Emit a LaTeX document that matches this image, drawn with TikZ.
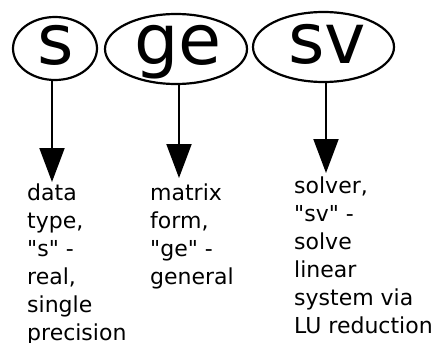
\documentclass[tikz,border=0pt]{standalone}
\usepackage{fontspec}
\setmainfont{DejaVu Sans}[Ligatures=TeXOff]
\usetikzlibrary{arrows.meta}
\begin{document}
\begin{tikzpicture}[x=1pt,y=-1pt,
  ring/.style={line width=2.2pt},
  big/.style={font=\fontsize{70}{70}\selectfont,inner sep=0pt,anchor=base},
  arr/.style={line width=2pt,-{Triangle[width=25pt,length=34pt]}},
  desc/.style={anchor=north west,inner sep=0pt,align=left,font=\fontsize{22}{28}\selectfont}]
\useasboundingbox (0,0) rectangle (435,342);
% ellipses
\draw[ring] (55,48.5) ellipse [x radius=42, y radius=31.5];
\draw[ring] (176,49) ellipse [x radius=71, y radius=35];
\draw[ring] (323.5,47) ellipse [x radius=70.5, y radius=35];
\node[big] (s) at (56,65) {s};
\node[big] (ge) at (178,65) {ge};
\node[big] (sv) at (327,64) {sv};
\coordinate (sb) at (52,80);
\coordinate (geb) at (179,84);
\coordinate (svb) at (326,82);
\coordinate (st) at (52,182);
\coordinate (get) at (179,178);
\coordinate (svt) at (326,173);
\draw[arr] (sb) -- (st);
\draw[arr] (geb) -- (get);
\draw[arr] (svb) -- (svt);
\node[desc] (d1) at (27,184) {data\\type,\\"s" -\\real,\\single\\precision};
\node[desc] (d2) at (150,184) {matrix\\form,\\"ge" -\\general};
\node[desc] (d3) at (294,176.5) {solver,\\"sv" -\\solve\\linear\\system via\\LU reduction};
\end{tikzpicture}
\end{document}
